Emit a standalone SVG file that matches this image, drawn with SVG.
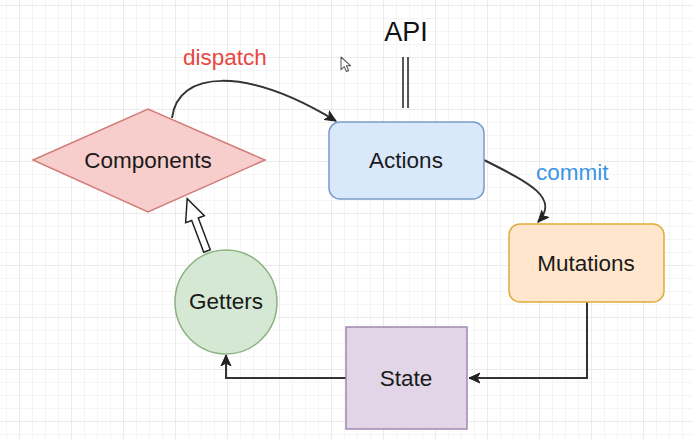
<svg xmlns="http://www.w3.org/2000/svg" width="693" height="439" viewBox="0 0 693 439">
  <defs>
    <pattern id="minor" x="6" y="5" width="13" height="13" patternUnits="userSpaceOnUse">
      <path d="M0,0 H13 M0,0 V13" fill="none" stroke="#ececec" stroke-width="1"/>
    </pattern>
    <pattern id="major" x="19" y="5" width="52" height="52" patternUnits="userSpaceOnUse">
      <path d="M0,0 H52 M0,0 V52" fill="none" stroke="#e2e2e2" stroke-width="1"/>
    </pattern>
    <marker id="arrow" viewBox="0 0 12 12" refX="11" refY="6" markerWidth="12" markerHeight="12" markerUnits="userSpaceOnUse" orient="auto">
      <path d="M0,1 L11,6 L0,11 L3,6 Z" fill="#222" stroke="#222" stroke-width="1"/>
    </marker>
    <style>
      .lbl { font-family: "Liberation Sans", Arial, sans-serif; font-size: 22.5px; fill: #1a1a1a; text-anchor: middle; }
      .conn { fill: none; stroke: #333; stroke-width: 2; }
    </style>
  </defs>

  <rect width="693" height="439" fill="#ffffff"/>
  <rect width="693" height="439" fill="url(#minor)"/>
  <rect width="693" height="439" fill="url(#major)"/>

  <g id="connectors">
    <path class="conn" d="M172,118 C178,70 245,66 336,121" marker-end="url(#arrow)"/>
    <path class="conn" d="M484,160 C530,183 560,198 538,222" marker-end="url(#arrow)"/>
    <path class="conn" d="M587,302 V378 H469" marker-end="url(#arrow)"/>
    <path class="conn" d="M346,378 H226 V355" marker-end="url(#arrow)"/>
    <g transform="translate(207,251) rotate(-110.7)">
      <polygon points="0,-3.5 34,-3.5 34,-10 56,0 34,10 34,3.5 0,3.5" fill="#ffffff" stroke="#222" stroke-width="1.5" stroke-linejoin="miter"/>
    </g>
    <path d="M403,57 V108 M408,57 V108" fill="none" stroke="#222" stroke-width="1.5"/>
  </g>

  <g id="components">
    <polygon points="33,160 148,109 265,160 148,212" fill="#f8cecc" stroke="#d27d78" stroke-width="1.5"/>
    <text class="lbl" x="148" y="168">Components</text>
  </g>

  <g id="actions">
    <rect x="329" y="122" width="155" height="77" rx="11" fill="#dae8fc" stroke="#7a9cc9" stroke-width="1.5"/>
    <text class="lbl" x="406" y="168">Actions</text>
  </g>

  <g id="mutations">
    <rect x="509" y="224" width="155" height="78" rx="11" fill="#ffe6cc" stroke="#e0ac3a" stroke-width="1.5"/>
    <text class="lbl" x="586" y="271">Mutations</text>
  </g>

  <g id="state">
    <rect x="346" y="327" width="121" height="102" fill="#e1d5e7" stroke="#a088b0" stroke-width="1.5"/>
    <text class="lbl" x="406" y="386">State</text>
  </g>

  <g id="getters">
    <ellipse cx="226" cy="302" rx="51" ry="52" fill="#d5e8d4" stroke="#8bb27f" stroke-width="1.5"/>
    <text class="lbl" x="226" y="309">Getters</text>
  </g>

  <g id="labels">
    <text x="183" y="65" style="font-family:'Liberation Sans',Arial,sans-serif;font-size:22.5px;fill:#e8473f">dispatch</text>
    <text x="536" y="180" style="font-family:'Liberation Sans',Arial,sans-serif;font-size:22.5px;fill:#3b94e6">commit</text>
    <text x="406" y="41" style="font-family:'Liberation Sans',Arial,sans-serif;font-size:27px;fill:#111;text-anchor:middle">API</text>
  </g>

  <g id="cursor" transform="translate(341,57) scale(0.85)">
    <path d="M0,0 L0,15 L3.8,11.3 L6.4,17 L9,15.8 L6.5,10.3 L11.5,10.3 Z" fill="#ffffff" stroke="#555" stroke-width="1.2" stroke-linejoin="round"/>
  </g>
</svg>
